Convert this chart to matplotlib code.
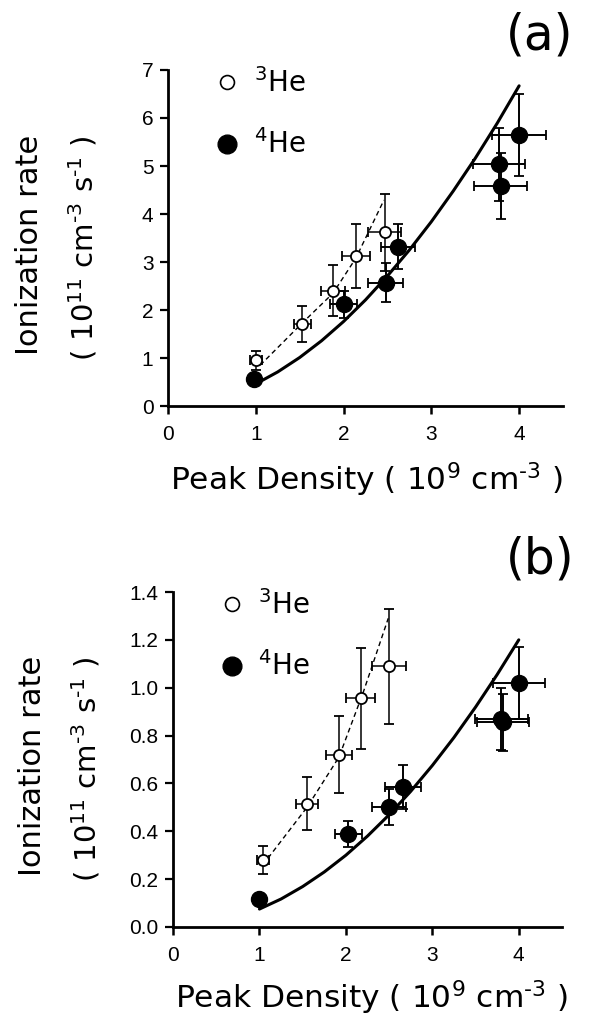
import matplotlib
matplotlib.use("Agg")
import matplotlib.pyplot as plt
from matplotlib.lines import Line2D

plt.rcParams['font.family'] = ['Liberation Sans', 'DejaVu Sans']
plt.rcParams['mathtext.fontset'] = 'custom'
plt.rcParams['mathtext.rm'] = 'DejaVu Sans'
plt.rcParams['mathtext.it'] = 'DejaVu Sans'
plt.rcParams['mathtext.bf'] = 'DejaVu Sans'

# ---------------- data: panel (a) ----------------
he3_x_a = [1.00, 1.53, 1.88, 2.14, 2.47]
he3_y_a = [0.95, 1.71, 2.40, 3.13, 3.62]
he3_xerr_a = [0.07, 0.10, 0.14, 0.16, 0.19]
he3_yerr_a = [0.20, 0.37, 0.53, 0.67, 0.80]

he4_x_a = [0.98, 2.00, 2.48, 2.62, 3.77, 3.79, 4.00]
he4_y_a = [0.56, 2.12, 2.57, 3.32, 5.04, 4.58, 5.65]
he4_xerr_a = [0.05, 0.15, 0.20, 0.19, 0.30, 0.30, 0.31]
he4_yerr_a = [0.08, 0.28, 0.40, 0.47, 0.76, 0.69, 0.86]

fit3_x_a = [1.05, 1.53, 1.88, 2.14, 2.46]
fit3_y_a = [0.85, 1.73, 2.35, 3.08, 4.29]
fit4_x_a = [1.00, 1.25, 1.50, 1.75, 2.00, 2.25, 2.50, 2.75, 3.00, 3.25, 3.50, 3.75, 4.00]
fit4_y_a = [0.46, 0.71, 1.01, 1.36, 1.76, 2.21, 2.71, 3.25, 3.84, 4.48, 5.16, 5.89, 6.67]

# ---------------- data: panel (b) ----------------
he3_x_b = [1.04, 1.55, 1.92, 2.17, 2.50]
he3_y_b = [0.280, 0.515, 0.720, 0.955, 1.090]
he3_xerr_b = [0.07, 0.125, 0.15, 0.17, 0.20]
he3_yerr_b = [0.06, 0.11, 0.16, 0.21, 0.24]

he4_x_b = [1.00, 2.03, 2.50, 2.66, 3.80, 3.82, 4.00]
he4_y_b = [0.115, 0.390, 0.500, 0.585, 0.870, 0.855, 1.020]
he4_xerr_b = [0.04, 0.16, 0.20, 0.21, 0.31, 0.30, 0.30]
he4_yerr_b = [0.015, 0.055, 0.075, 0.090, 0.130, 0.120, 0.150]

fit3_x_b = [1.04, 1.55, 1.92, 2.20, 2.49]
fit3_y_b = [0.26, 0.50, 0.71, 0.98, 1.29]
fit4_x_b = [1.00, 1.25, 1.50, 1.75, 2.00, 2.25, 2.50, 2.75, 3.00, 3.25, 3.50, 3.75, 4.00]
fit4_y_b = [0.075, 0.117, 0.169, 0.230, 0.300, 0.380, 0.469, 0.567, 0.675, 0.792, 0.919, 1.055, 1.200]

xticks = [0, 1, 2, 3, 4]
yticks_a = [0, 1, 2, 3, 4, 5, 6, 7]
yticks_b = [0.0, 0.2, 0.4, 0.6, 0.8, 1.0, 1.2, 1.4]
ytick_labels_b = ['0.0', '0.2', '0.4', '0.6', '0.8', '1.0', '1.2', '1.4']

W, H = 592, 1023
fig = plt.figure(figsize=(W / 100, H / 100), dpi=100)
fig.patch.set_facecolor('white')

ax1 = fig.add_axes([168 / W, 1 - 406 / H, 395 / W, 336 / H])
ax2 = fig.add_axes([173 / W, 1 - 927 / H, 389 / W, 335 / H])

LABEL_FONT = 'DejaVu Sans'
HY = '\u2010'


def draw(ax, h3x, h3y, h3xe, h3ye, h4x, h4y, h4xe, h4ye, f3x, f3y, f4x, f4y, ylim, yticks, yticklabels):
    ax.plot(f4x, f4y, color='black', lw=2.2, zorder=2, solid_capstyle='round')
    ax.plot(f3x, f3y, color='black', lw=1.0, ls=(0, (3.5, 2.5)), zorder=2)
    ax.errorbar(h4x, h4y, xerr=h4xe, yerr=h4ye, fmt='o', ms=11.5, mfc='black', mec='black',
                ecolor='black', elinewidth=1.4, capsize=3.5, capthick=1.3, zorder=3)
    ax.errorbar(h3x, h3y, xerr=h3xe, yerr=h3ye, fmt='o', ms=8, mfc='white', mec='black', mew=1.3,
                ecolor='black', elinewidth=1.1, capsize=3.5, capthick=1.1, zorder=4)
    ax.set_xlim(0, 4.5)
    ax.set_ylim(*ylim)
    ax.set_xticks(xticks)
    ax.set_yticks(yticks)
    ax.set_yticklabels(yticklabels)
    for s in ['top', 'right']:
        ax.spines[s].set_visible(False)
    for s in ['left', 'bottom']:
        ax.spines[s].set_linewidth(2.0)
    ax.tick_params(axis='x', direction='out', length=6, width=1.8, labelsize=15, pad=8)
    ax.tick_params(axis='y', direction='out', length=5.5, width=1.6, labelsize=15, pad=5)
    h3 = Line2D([], [], ls='none', marker='o', ms=10, mfc='white', mec='black', mew=1.2)
    h4 = Line2D([], [], ls='none', marker='o', ms=13.5, mfc='black', mec='black')
    ax.legend([h3, h4], ['$^{3}$He', '$^{4}$He'], loc='upper left', bbox_to_anchor=(0.09, 1.04),
              frameon=False, handlelength=0.9, handletextpad=0.5, labelspacing=1.15,
              borderaxespad=0.0, prop={'family': LABEL_FONT, 'size': 20})


draw(ax1, he3_x_a, he3_y_a, he3_xerr_a, he3_yerr_a, he4_x_a, he4_y_a, he4_xerr_a, he4_yerr_a,
     fit3_x_a, fit3_y_a, fit4_x_a, fit4_y_a, (0, 7), yticks_a, [str(t) for t in yticks_a])
draw(ax2, he3_x_b, he3_y_b, he3_xerr_b, he3_yerr_b, he4_x_b, he4_y_b, he4_xerr_b, he4_yerr_b,
     fit3_x_b, fit3_y_b, fit4_x_b, fit4_y_b, (0, 1.4), yticks_b, ytick_labels_b)

xlabel = 'Peak Density ( 10$^{9}$ cm$^{' + HY + '3}$ )'
ylab1 = 'Ionization rate'
ylab2 = '( 10$^{11}$ cm$^{' + HY + '3}$ s$^{' + HY + '1}$ )'

# panel (a) labels
fig.text(366 / W, 1 - 480 / H, xlabel, ha='center', va='center', fontsize=22.5, family=LABEL_FONT)
fig.text(30 / W, 1 - 245 / H, ylab1, ha='center', va='center', rotation=90, fontsize=22, family=LABEL_FONT)
fig.text(83 / W, 1 - 248 / H, ylab2, ha='center', va='center', rotation=90, fontsize=21, family=LABEL_FONT)
fig.text(540 / W, 1 - 36 / H, '(a)', ha='center', va='center', fontsize=35, family=LABEL_FONT)

# panel (b) labels
fig.text(371 / W, 1 - 998 / H, xlabel, ha='center', va='center', fontsize=22.5, family=LABEL_FONT)
fig.text(33 / W, 1 - 766 / H, ylab1, ha='center', va='center', rotation=90, fontsize=22, family=LABEL_FONT)
fig.text(86 / W, 1 - 769 / H, ylab2, ha='center', va='center', rotation=90, fontsize=21, family=LABEL_FONT)
fig.text(540 / W, 1 - 560 / H, '(b)', ha='center', va='center', fontsize=35, family=LABEL_FONT)

fig.savefig('out.png', dpi=100, facecolor='white')
